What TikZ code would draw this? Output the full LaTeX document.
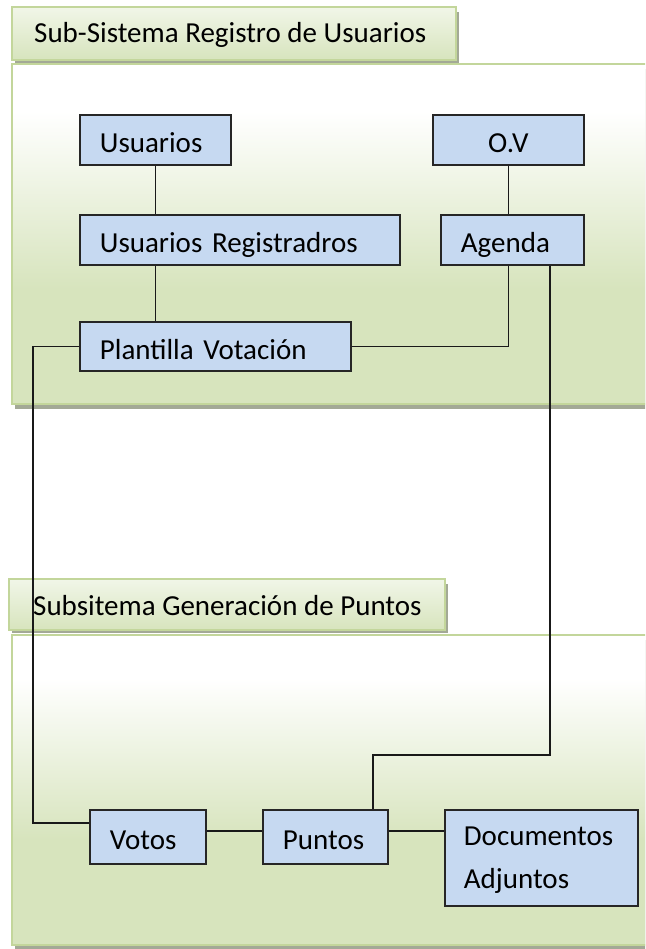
\documentclass[tikz,border=0pt]{standalone}
\usepackage{fontspec}
\setmainfont{Carlito}
\usetikzlibrary{calc}
\definecolor{boxblue}{HTML}{C6D9F1}
\definecolor{pgreen}{HTML}{D7E4BD}
\definecolor{pborder}{HTML}{C3D69B}
\definecolor{hdtop}{HTML}{F1F6E8}
\definecolor{shadowc}{HTML}{A3A996}
\pgfdeclareverticalshading{panelshade}{100bp}{color(0bp)=(pgreen); color(42bp)=(pgreen); color(68bp)=(white); color(100bp)=(white)}
\begin{document}
\begin{tikzpicture}[x=1pt,y=-1pt,
  box/.style={draw=black!85, line width=1.8pt, fill=boxblue, anchor=north west,
    inner xsep=20pt, inner ysep=0pt, text height=26pt, text depth=0pt, align=left,
    font=\fontsize{29}{43}\selectfont},
  conn/.style={draw=black!90, line width=1.8pt},
  panel/.style={draw=pborder, line width=1.2pt, shading=panelshade},
  header/.style={draw=pborder, line width=1.2pt, top color=hdtop, bottom color=pgreen},
  shadowbox/.style={fill=shadowc, draw=none},
  htext/.style={anchor=base west, inner sep=0pt, font=\fontsize{29}{35}\selectfont}]
\useasboundingbox (0,0) rectangle (645,949);
\clip (0,0) rectangle (645,949);
% group 1
\fill[shadowbox] (15,69) rectangle (660,409);
\path[panel] (12,64) rectangle (660,404);
\fill[shadowbox] (15,12) rectangle (459,63);
\path[header] (12,7) rectangle (456,60);
\node[htext] (h1) at (34,43) {Sub-Sistema Registro de Usuarios};
% group 2
\fill[shadowbox] (15,640) rectangle (660,952);
\path[panel] (12,635) rectangle (660,945);
\fill[shadowbox] (12,584) rectangle (448,633);
\path[header] (9,579) rectangle (445,630);
\node[htext] (h2) at (33,615) {Subsitema Generación de Puntos};
% boxes
\node[box, text width=111pt, minimum height=50pt] (usu) at (79,114) {Usuarios};
\node[box, text width=111pt, minimum height=50pt, align=center] (ov) at (432,114) {O.V};
\node[box, text width=280pt, minimum height=50pt] (ur) at (79,214) {Usuarios Registradros};
\node[box, text width=103pt, minimum height=50pt] (ag) at (440,214) {Agenda};
\node[box, text width=231pt, minimum height=49pt] (pv) at (79,321) {Plantilla Votación};
\node[box, text width=76pt, minimum height=54pt] (vo) at (89,809) {Votos};
\node[box, text width=85pt, minimum height=54pt] (pu) at (262,809) {Puntos};
\node[box, text width=155pt, inner xsep=19pt, minimum height=96pt, text height=20pt, text depth=44pt] (doc) at (444,809) {Documentos\\Adjuntos};
% helper coordinates
\coordinate (a1) at ($(ag.south east)+(-35,0)$);
\coordinate (k1) at (373,755);
\coordinate (k2) at (33,823);
\coordinate (k3) at (0,831);
% connectors
\draw[conn] (usu.south) -- (usu.south |- ur.north);
\draw[conn] (usu.south |- ur.south) -- (usu.south |- pv.north);
\draw[conn] (ov.south) -- (ov.south |- ag.north);
\draw[conn] (pv.east) -| (ov.south |- ag.south);
\draw[conn] (pv.west) -| (k2) -- (k2 -| vo.west);
\draw[conn] (a1) |- (k1) -- (k1 |- pu.north);
\draw[conn] (k3 -| vo.east) -- (k3 -| pu.west);
\draw[conn] (k3 -| pu.east) -- (k3 -| doc.west);
\end{tikzpicture}
\end{document}
